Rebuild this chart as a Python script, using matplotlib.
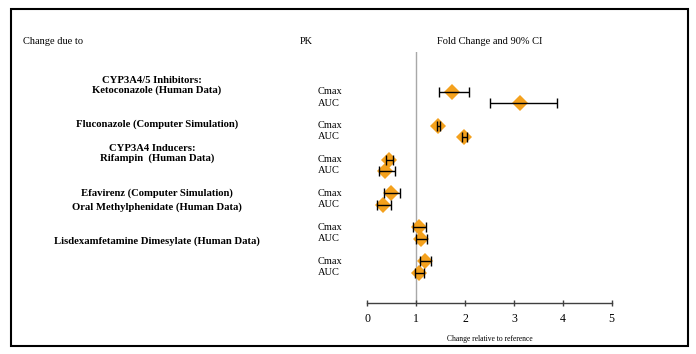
import numpy as np
from matplotlib import pyplot as plt
import matplotlib.patches as patches
import matplotlib.transforms as transforms

plt.rcParams['font.family'] = ['Liberation Serif', 'DejaVu Serif']

# data (fold change, 90% CI)
groups = ["Ketoconazole (Human Data)",
          "Fluconazole (Computer Simulation)",
          "Rifampin  (Human Data)",
          "Efavirenz (Computer Simulation)",
          "Oral Methylphenidate (Human Data)",
          "Lisdexamfetamine Dimesylate (Human Data)"]
pk_params = ["Cmax", "AUC"]
cmax_est = [1.74, 1.45, 0.45, 0.48, 1.06, 1.19]
cmax_lo = [1.46, 1.42, 0.39, 0.34, 0.94, 1.08]
cmax_hi = [2.09, 1.48, 0.53, 0.67, 1.21, 1.30]
auc_est = [3.12, 1.97, 0.37, 0.33, 1.10, 1.06]
auc_lo = [2.52, 1.93, 0.245, 0.20, 1.00, 0.98]
auc_hi = [3.89, 2.03, 0.57, 0.48, 1.23, 1.17]
class_headers = {0: "CYP3A4/5 Inhibitors:", 2: "CYP3A4 Inducers:"}
x_ticks = [0, 1, 2, 3, 4, 5]

# row layout: Cmax, AUC, blank per group
n = len(groups)
y_cmax = np.arange(n) * 3.0
y_auc = y_cmax + 1
# where the group titles sit relative to their Cmax row
title_shift = [-0.1, -0.1, -0.1, 0.0, -1.8, -1.8]

################################################################
fig = plt.figure()
fig.set_dpi(100)
fig.set_size_inches(6.96, 3.54)

ax = fig.add_axes([0.5277, 0.1449, 0.3512, 0.709])
ax.set_xlim(0, 5)
ax.set_ylim(18.67, -3.54)

ax.axvline(1, color="#a8a8a8", lw=1.0, zorder=1)

orange = "#f4a11d"
est = np.array(cmax_est + auc_est)
lo = np.array(cmax_lo + auc_lo)
hi = np.array(cmax_hi + auc_hi)
ys = np.concatenate([y_cmax, y_auc])
ax.plot(est, ys, "D", color=orange, ms=8.5, mew=0, zorder=2)
ax.errorbar(est, ys, xerr=[est - lo, hi - est], fmt="none", ecolor="black",
            elinewidth=1.0, capsize=3.5, capthick=1.0, zorder=3)

for s in ["left", "top", "right"]:
    ax.spines[s].set_visible(False)
ax.spines["bottom"].set_color("#404040")
ax.spines["bottom"].set_linewidth(1.0)
ax.set_yticks([])
ax.set_xticks(x_ticks)
ax.tick_params(axis="x", direction="inout", length=5, width=1.0,
               color="#404040", labelsize=8.5, pad=5)
ax.set_xlabel("Change relative to reference", fontsize=5.5, labelpad=7)

# left-hand texts
tr = transforms.blended_transform_factory(fig.transFigure, ax.transData)
for i, name in enumerate(groups):
    ty = y_cmax[i] + title_shift[i]
    ax.text(157 / 696, ty, name, transform=tr, ha="center", va="center",
            fontsize=7.7, fontweight="bold")
    if i in class_headers:
        ax.text(152 / 696, ty - 0.85, class_headers[i], transform=tr,
                ha="center", va="center", fontsize=7.7, fontweight="bold")
    for j, p in enumerate(pk_params):
        ax.text(318 / 696, y_cmax[i] + j, p, transform=tr, ha="left",
                va="center", fontsize=7.5)

hy = 1 - 42 / 354
fig.text(23 / 696, hy, "Change due to", ha="left", va="center", fontsize=7.5)
fig.text(300 / 696, hy, "PK", ha="left", va="center", fontsize=7.5)
fig.text(437 / 696, hy, "Fold Change and 90% CI", ha="left", va="center",
         fontsize=7.5)

fig.patches.append(patches.Rectangle((11 / 696, 8 / 354), 677 / 696, 337 / 354,
                                     transform=fig.transFigure, fill=False,
                                     edgecolor="black", linewidth=1.5))

fig.savefig("out.png", dpi=100, facecolor="white")
